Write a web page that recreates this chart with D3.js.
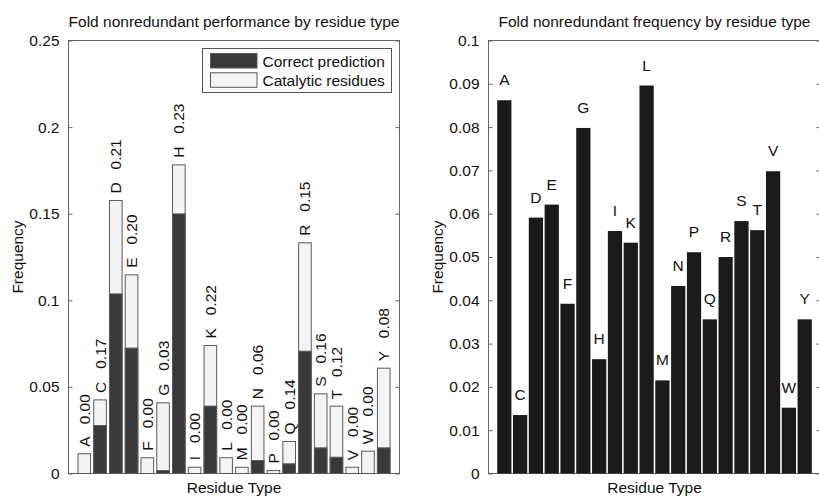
<!DOCTYPE html>
<html><head><meta charset="utf-8">
<script src="https://cdn.jsdelivr.net/npm/d3@7"></script>
<style>
body{margin:0;background:#fff;}
svg text{font-family:"Liberation Sans",Arial,Helvetica,sans-serif;fill:#111;}
</style></head>
<body><svg id="c" width="819" height="496"></svg>
<script>
const residues = ["A","C","D","E","F","G","H","I","K","L","M","N","P","Q","R","S","T","V","W","Y"];
const catalyticResidues = [0.0114,0.0425,0.1576,0.1147,0.0091,0.0408,0.1782,0.0036,0.0739,0.0091,0.0036,0.0389,0.0017,0.0185,0.1332,0.0460,0.0389,0.0036,0.0129,0.0608];
const correctPrediction = [0,0.0277,0.1037,0.0724,0,0.0017,0.1499,0,0.0389,0,0,0.0075,0,0.0056,0.0706,0.0148,0.0094,0,0,0.0148];
const performanceLabels = ["0.00","0.17","0.21","0.20","0.00","0.03","0.23","0.00","0.22","0.00","0.00","0.06","0.00","0.14","0.15","0.16","0.12","0.00","0.00","0.08"];
const residueFrequency = [0.0862,0.0135,0.0591,0.0621,0.0392,0.0798,0.0264,0.0560,0.0533,0.0896,0.0215,0.0433,0.0511,0.0356,0.0500,0.0583,0.0562,0.0698,0.0152,0.0356];
const leftTicks = [0,0.05,0.1,0.15,0.2,0.25];
const rightTicks = [0,0.01,0.02,0.03,0.04,0.05,0.06,0.07,0.08,0.09,0.1];
const legendItems = ["Correct prediction","Catalytic residues"];

const svg = d3.select("#c");
const FS = 15.5;
const DARK = "#393939", LIGHT = "#f4f4f4", EDGE = "#5a5a5a";

function makeAxes(x0, x1, y0, y1, ymax, ticks, fmt, title){
  const g = svg.append("g");
  const pos = d3.scaleLinear().domain([0,21]).range([x0,x1]);
  const y = d3.scaleLinear().domain([0,ymax]).range([y1,y0]);
  g.append("rect").attr("x",x0).attr("y",y0).attr("width",x1-x0).attr("height",y1-y0)
    .attr("fill","none").attr("stroke","#666").attr("stroke-width",1);
  const axL = d3.axisLeft(y).tickValues(ticks).tickSize(-4).tickPadding(9).tickFormat(fmt);
  const gl = g.append("g").attr("transform",`translate(${x0},0)`).call(axL);
  gl.select(".domain").remove();
  gl.selectAll("line").attr("stroke","#666");
  gl.selectAll("text").attr("font-size",FS).attr("fill","#111").style("font-family","Liberation Sans, Arial, sans-serif");
  const axR = d3.axisRight(y).tickValues(ticks).tickSize(-4).tickFormat("");
  const gr = g.append("g").attr("transform",`translate(${x1},0)`).call(axR);
  gr.select(".domain").remove();
  gr.selectAll("line").attr("stroke","#666");
  g.append("text").attr("x",(x0+x1)/2).attr("y",27).attr("text-anchor","middle").attr("font-size",FS).text(title);
  g.append("text").attr("x",(x0+x1)/2).attr("y",493).attr("text-anchor","middle").attr("font-size",FS).text("Residue Type");
  g.append("text").attr("transform",`translate(${x0-46},${(y0+y1)/2}) rotate(-90)`).attr("text-anchor","middle").attr("font-size",FS).text("Frequency");
  return {g,pos,y};
}

// Left chart
const L = makeAxes(68.5, 399.5, 40.5, 473.5, 0.25, leftTicks, d => d===0?"0":String(d), "Fold nonredundant performance by residue type");
const band = L.pos(1)-L.pos(0);
const bw = 0.8*band;
L.g.selectAll("rect.cat").data(residues).join("rect").attr("class","cat")
  .attr("x",(d,i)=>L.pos(i+1)-bw/2).attr("width",bw)
  .attr("y",(d,i)=>L.y(catalyticResidues[i])).attr("height",(d,i)=>L.y(0)-L.y(catalyticResidues[i]))
  .attr("fill",LIGHT).attr("stroke",EDGE).attr("stroke-width",1);
L.g.selectAll("rect.cor").data(residues).join("rect").attr("class","cor")
  .attr("x",(d,i)=>L.pos(i+1)-bw/2).attr("width",bw)
  .attr("y",(d,i)=>L.y(correctPrediction[i])).attr("height",(d,i)=>L.y(0)-L.y(correctPrediction[i]))
  .attr("fill",DARK).attr("stroke",EDGE).attr("stroke-width",(d,i)=>correctPrediction[i]>0?1:0);
L.g.selectAll("text.lab").data(residues).join("text").attr("class","lab")
  .attr("transform",(d,i)=>`translate(${L.pos(i+1)},${L.y(catalyticResidues[i])-7}) rotate(-90)`)
  .attr("dominant-baseline","central").attr("font-size",FS).style("white-space","pre")
  .text((d,i)=>d+"   "+performanceLabels[i]);
const lg = L.g.append("g");
lg.append("rect").attr("x",202.5).attr("y",48.5).attr("width",189).attr("height",44).attr("fill","#fff").attr("stroke","#555");
const legFill=[DARK,LIGHT];
legendItems.forEach((t,i)=>{
  lg.append("rect").attr("x",210.5).attr("y",53.5+i*19.3).attr("width",46.5).attr("height",14.5).attr("fill",legFill[i]).attr("stroke",EDGE);
  lg.append("text").attr("x",262.5).attr("y",61+i*19.3).attr("dominant-baseline","central").attr("font-size",FS).text(t);
});

// Right chart
const R = makeAxes(488.5, 820.5, 40.5, 473.5, 0.1, rightTicks, d => d===0?"0":String(+d.toFixed(2)), "Fold nonredundant frequency by residue type");
const band2 = R.pos(1)-R.pos(0);
const bw2 = 0.9*band2;
R.g.selectAll("rect.fr").data(residues).join("rect").attr("class","fr")
  .attr("x",(d,i)=>R.pos(i+1)-bw2/2).attr("width",bw2)
  .attr("y",(d,i)=>R.y(residueFrequency[i])).attr("height",(d,i)=>R.y(0)-R.y(residueFrequency[i]))
  .attr("fill","#1a1a1a");
R.g.selectAll("text.lab").data(residues).join("text").attr("class","lab")
  .attr("x",(d,i)=>R.pos(i+1)).attr("y",(d,i)=>R.y(residueFrequency[i])-15)
  .attr("text-anchor","middle").attr("font-size",FS).text(d=>d);
</script></body></html>
